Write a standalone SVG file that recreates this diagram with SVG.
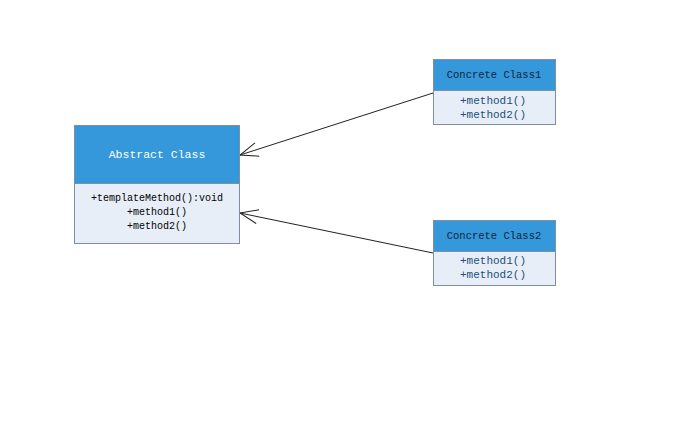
<svg xmlns="http://www.w3.org/2000/svg" width="687" height="436" viewBox="0 0 687 436">
<defs>
<marker id="open" viewBox="0 0 20 20" refX="19" refY="10" markerWidth="20" markerHeight="20" markerUnits="userSpaceOnUse" orient="auto">
<path d="M1,3 L19,10 L1,17" fill="none" stroke="#222" stroke-width="1"/>
</marker>
</defs>
<style>
.hdr{fill:#3498db;stroke:#7f8fa3;stroke-width:1}
.body{fill:#e8eef7;stroke:#7f8fa3;stroke-width:1}
text{font-family:"Liberation Mono","DejaVu Sans Mono",monospace;text-anchor:middle}
.t1{font-size:11.5px;fill:#ffffff}
.t2{font-size:10px;fill:#000}
.t3{font-size:10.5px;fill:#10243a}
.t4{font-size:11px;fill:#1b4f7a}
.edge{stroke:#222;stroke-width:1;fill:none}
</style>
<rect width="687" height="436" fill="#ffffff"/>
<g id="connectors">
<line class="edge" x1="433" y1="93" x2="240" y2="155" marker-end="url(#open)"/>
<line class="edge" x1="433" y1="253" x2="240" y2="213" marker-end="url(#open)"/>
</g>
<g id="abstract">
<rect class="hdr" x="74.5" y="125.5" width="165" height="58"/>
<rect class="body" x="74.5" y="183.5" width="165" height="60"/>
<text class="t1" x="157" y="158">Abstract Class</text>
<text class="t2" x="157" y="201">+templateMethod():void</text>
<text class="t2" x="157" y="215">+method1()</text>
<text class="t2" x="157" y="229">+method2()</text>
</g>
<g id="concrete1">
<rect class="hdr" x="433.5" y="59.5" width="122" height="31"/>
<rect class="body" x="433.5" y="90.5" width="122" height="34"/>
<text class="t3" x="494" y="78">Concrete Class1</text>
<text class="t4" x="493" y="104">+method1()</text>
<text class="t4" x="493" y="118">+method2()</text>
</g>
<g id="concrete2">
<rect class="hdr" x="433.5" y="220.5" width="122" height="31"/>
<rect class="body" x="433.5" y="251.5" width="122" height="34"/>
<text class="t3" x="494" y="239">Concrete Class2</text>
<text class="t4" x="493" y="264">+method1()</text>
<text class="t4" x="493" y="278">+method2()</text>
</g>
</svg>
